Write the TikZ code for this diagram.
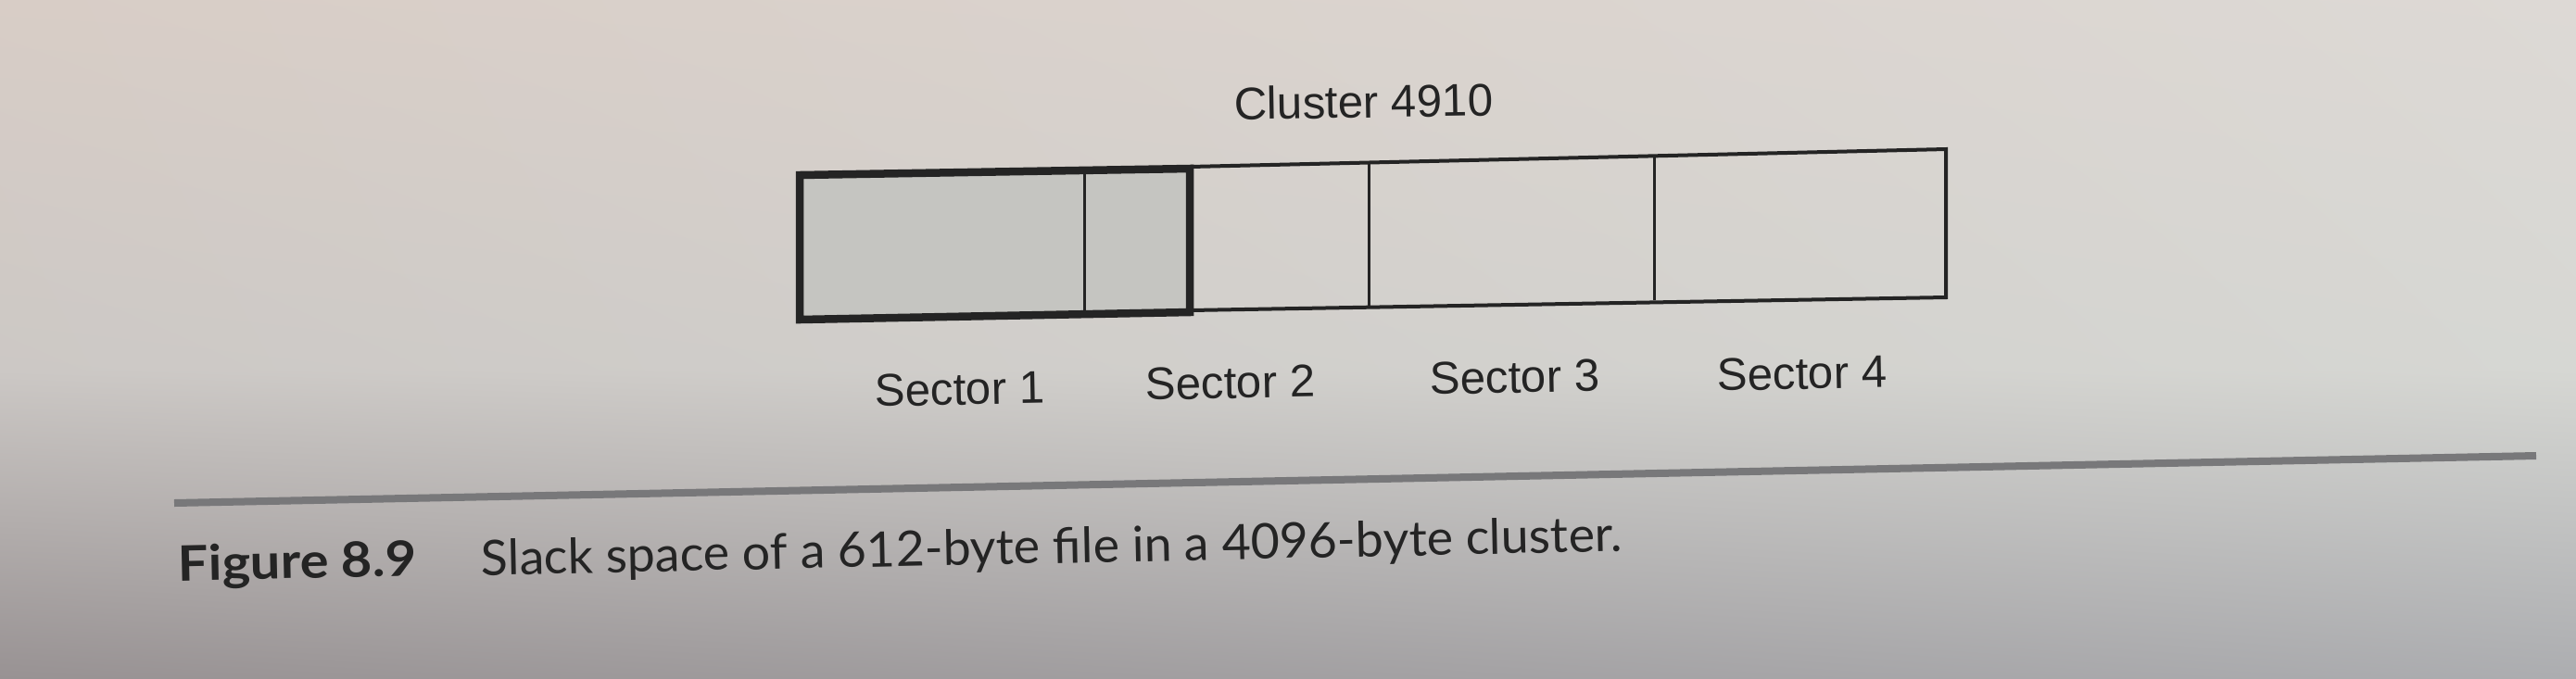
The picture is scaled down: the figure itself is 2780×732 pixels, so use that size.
\documentclass[tikz,border=0pt]{standalone}
\usepackage{fontspec}
\usepackage{graphicx}
\usetikzlibrary{shadings}
\newfontfamily\helv{Liberation Sans}
\newfontfamily\capfont{Lato}
\definecolor{ink}{RGB}{36,36,36}
\definecolor{pTL}{RGB}{216,205,198}
\definecolor{pTR}{RGB}{221,217,213}
\definecolor{pML}{RGB}{204,200,197}
\definecolor{pMR}{RGB}{214,215,211}
\definecolor{pBL}{RGB}{152,146,147}
\definecolor{pBR}{RGB}{172,173,176}
\definecolor{shadefill}{RGB}{197,197,193}
\definecolor{rulegray}{RGB}{120,120,122}
\begin{document}
\begin{tikzpicture}[x=0.01cm,y=-0.01cm,
  lbl/.style={font=\helv\fontsize{14}{16}\selectfont, text=ink, inner sep=0pt, anchor=base},
  captionstyle/.style={text=ink, inner sep=0pt, anchor=base west, rotate=1.2},
  thickborder/.style={draw=ink, line width=0.085cm, line join=miter},
  thinborder/.style={draw=ink, line width=0.04cm, line join=miter},
  divider/.style={draw=ink, line width=0.03cm},
  rulestyle/.style={draw=rulegray, line width=0.08cm}]
\useasboundingbox (0,0) rectangle (2780,732);
% paper background
\shade[upper left=pTL, upper right=pTR, lower left=pML, lower right=pMR] (0,0) rectangle (2780,400);
\shade[upper left=pML, upper right=pMR, lower left=pBL, lower right=pBR] (0,399) rectangle (2780,732);
% box corners
\coordinate (A0t) at (863,189);  \coordinate (A0b) at (863,345);
\coordinate (A1t) at (1170,184); \coordinate (A1b) at (1170,339);
\coordinate (A2t) at (1284,182); \coordinate (A2b) at (1284,337);
\coordinate (B2t) at (1284,180); \coordinate (B2b) at (1284,335);
\coordinate (A3t) at (1477,177); \coordinate (A3b) at (1477,332);
\coordinate (A4t) at (1785,169); \coordinate (A4b) at (1785,324);
\coordinate (A5t) at (2100,161); \coordinate (A5b) at (2100,321);
% shaded used part
\fill[shadefill] (A0t) -- (A2t) -- (A2b) -- (A0b) -- cycle;
% unused part
\draw[thinborder] (B2t) -- (A5t) -- (A5b) -- (B2b);
\draw[divider] (A1t) -- (A1b);
\draw[divider] (A3t) -- (A3b);
\draw[divider] (A4t) -- (A4b);
\draw[thickborder] (A0t) -- (A2t) -- (A2b) -- (A0b) -- cycle;
% labels
\node[lbl, rotate=1] (cl) at (1472,127) {Cluster 4910};
\node[lbl, rotate=1.1] (s1) at (1036,437) {Sector 1};
\node[lbl, rotate=1.1] (s2) at (1328,430) {Sector 2};
\node[lbl, rotate=1.1] (s3) at (1635,424) {Sector 3};
\node[lbl, rotate=1.1] (s4) at (1945,420) {Sector 4};
% rule
\coordinate (R0) at (188,543);
\coordinate (R1) at (2737,492);
\draw[rulestyle] (R0) -- (R1);
% caption
\node[captionstyle] (fig) at (192,627) {\resizebox{2.57cm}{\height}{\capfont\bfseries\fontsize{15}{18}\selectfont Figure 8.9}};
\node[captionstyle] (captext) at (519,621) {\resizebox{12.31cm}{\height}{\capfont\fontsize{15}{18}\selectfont Slack space of a 612-byte file in a 4096-byte cluster.}};
\end{tikzpicture}
\end{document}
